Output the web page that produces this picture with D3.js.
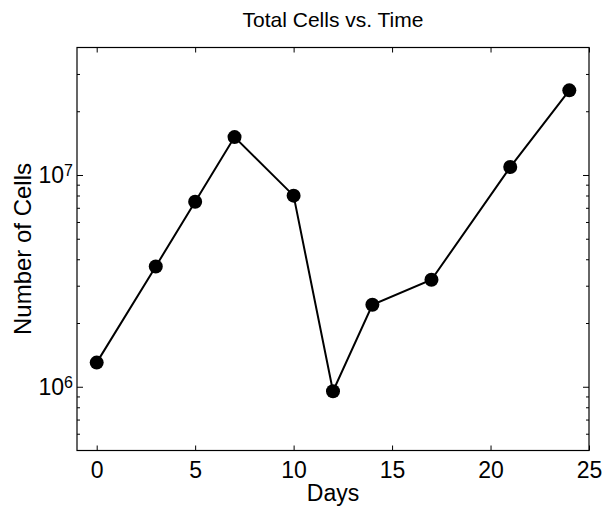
<!DOCTYPE html>
<meta charset="utf-8">
<title>Total Cells vs. Time</title>
<script src="https://d3js.org/d3.v7.min.js"></script>
<style>
  body { margin: 0; background: #fff; }
  svg { font-family: "Liberation Sans", Arial, Helvetica, sans-serif; }
  .frame { fill: none; stroke: #000; stroke-width: 1.2px; }
  .tick line { stroke: #000; stroke-width: 1px; }
  .domain { display: none; }
  .series { fill: none; stroke: #000; stroke-width: 2px; }
</style>
<body>
<svg width="604" height="508"></svg>
<script>
  // data
  var days = [0, 3, 5, 7, 10, 12, 14, 17, 21, 24];
  var cells = [1.30e6, 3.70e6, 7.48e6, 1.51e7, 7.99e6, 9.53e5, 2.44e6, 3.2e6, 1.09e7, 2.51e7];
  var xTicks = [0, 5, 10, 15, 20, 25];
  var yMajor = [1e6, 1e7];
  var yMinor = [6e5, 7e5, 8e5, 9e5, 2e6, 3e6, 4e6, 5e6, 6e6, 7e6, 8e6, 9e6, 2e7, 3e7];

  var svg = d3.select("svg"),
    margin = { top: 47.5, right: 15, bottom: 57.5, left: 77 },
    width = +svg.attr("width") - margin.left - margin.right,
    height = +svg.attr("height") - margin.top - margin.bottom,
    g = svg.append("g").attr("transform", "translate(" + margin.left + "," + margin.top + ")");

  var x = d3.scaleLinear().domain([-1, 25]).range([0, width]);
  var y = d3.scaleLog().domain([5e5, 4e7]).range([height, 0]);

  // ticks pointing inward, on all four sides
  g.append("g").attr("transform", "translate(0," + height + ")")
    .call(d3.axisBottom(x).tickValues(xTicks).tickSize(-5).tickPadding(0).tickFormat(d3.format("d")))
    .call(function (a) {
      a.attr("font-size", null).attr("font-family", null);
      a.selectAll("text").attr("dy", null).attr("y", 27.5)
        .style("font-size", "23px").attr("fill", "#000");
    });
  g.append("g")
    .call(d3.axisTop(x).tickValues(xTicks).tickSize(-5).tickFormat(""));

  g.append("g")
    .call(d3.axisLeft(y).tickValues(yMajor).tickSize(-6).tickFormat(""));
  g.append("g")
    .call(d3.axisLeft(y).tickValues(yMinor).tickSize(-3).tickFormat(""));
  g.append("g").attr("transform", "translate(" + width + ",0)")
    .call(d3.axisRight(y).tickValues(yMajor).tickSize(-6).tickFormat(""));
  g.append("g").attr("transform", "translate(" + width + ",0)")
    .call(d3.axisRight(y).tickValues(yMinor).tickSize(-3).tickFormat(""));

  // y labels as 10 with a superscript exponent
  var yl = g.selectAll(".ylab").data(yMajor).enter().append("text")
    .attr("class", "ylab")
    .attr("x", -4)
    .attr("y", function (d) { return y(d) + 8.3; })
    .attr("text-anchor", "end")
    .style("font-size", "23px");
  yl.append("tspan").text("10");
  yl.append("tspan").attr("dy", -7).style("font-size", "16px")
    .text(function (d) { return Math.round(Math.log10(d)); });

  g.append("rect").attr("class", "frame").attr("width", width).attr("height", height);

  var line = d3.line()
    .x(function (d, i) { return x(days[i]); })
    .y(function (d) { return y(d); });

  g.append("path").datum(cells).attr("class", "series").attr("d", line);

  g.selectAll(".dot").data(cells).enter().append("circle")
    .attr("class", "dot")
    .attr("cx", function (d, i) { return x(days[i]); })
    .attr("cy", function (d) { return y(d); })
    .attr("r", 7)
    .attr("fill", "#000");

  svg.append("text").attr("x", margin.left + width / 2).attr("y", 27)
    .attr("text-anchor", "middle").style("font-size", "21px").text("Total Cells vs. Time");
  svg.append("text").attr("x", margin.left + width / 2).attr("y", 501)
    .attr("text-anchor", "middle").style("font-size", "23px").text("Days");
  svg.append("text")
    .attr("transform", "translate(31," + (margin.top + height / 2) + ") rotate(-90)")
    .attr("text-anchor", "middle").style("font-size", "24px").text("Number of Cells");
</script>
</body>
